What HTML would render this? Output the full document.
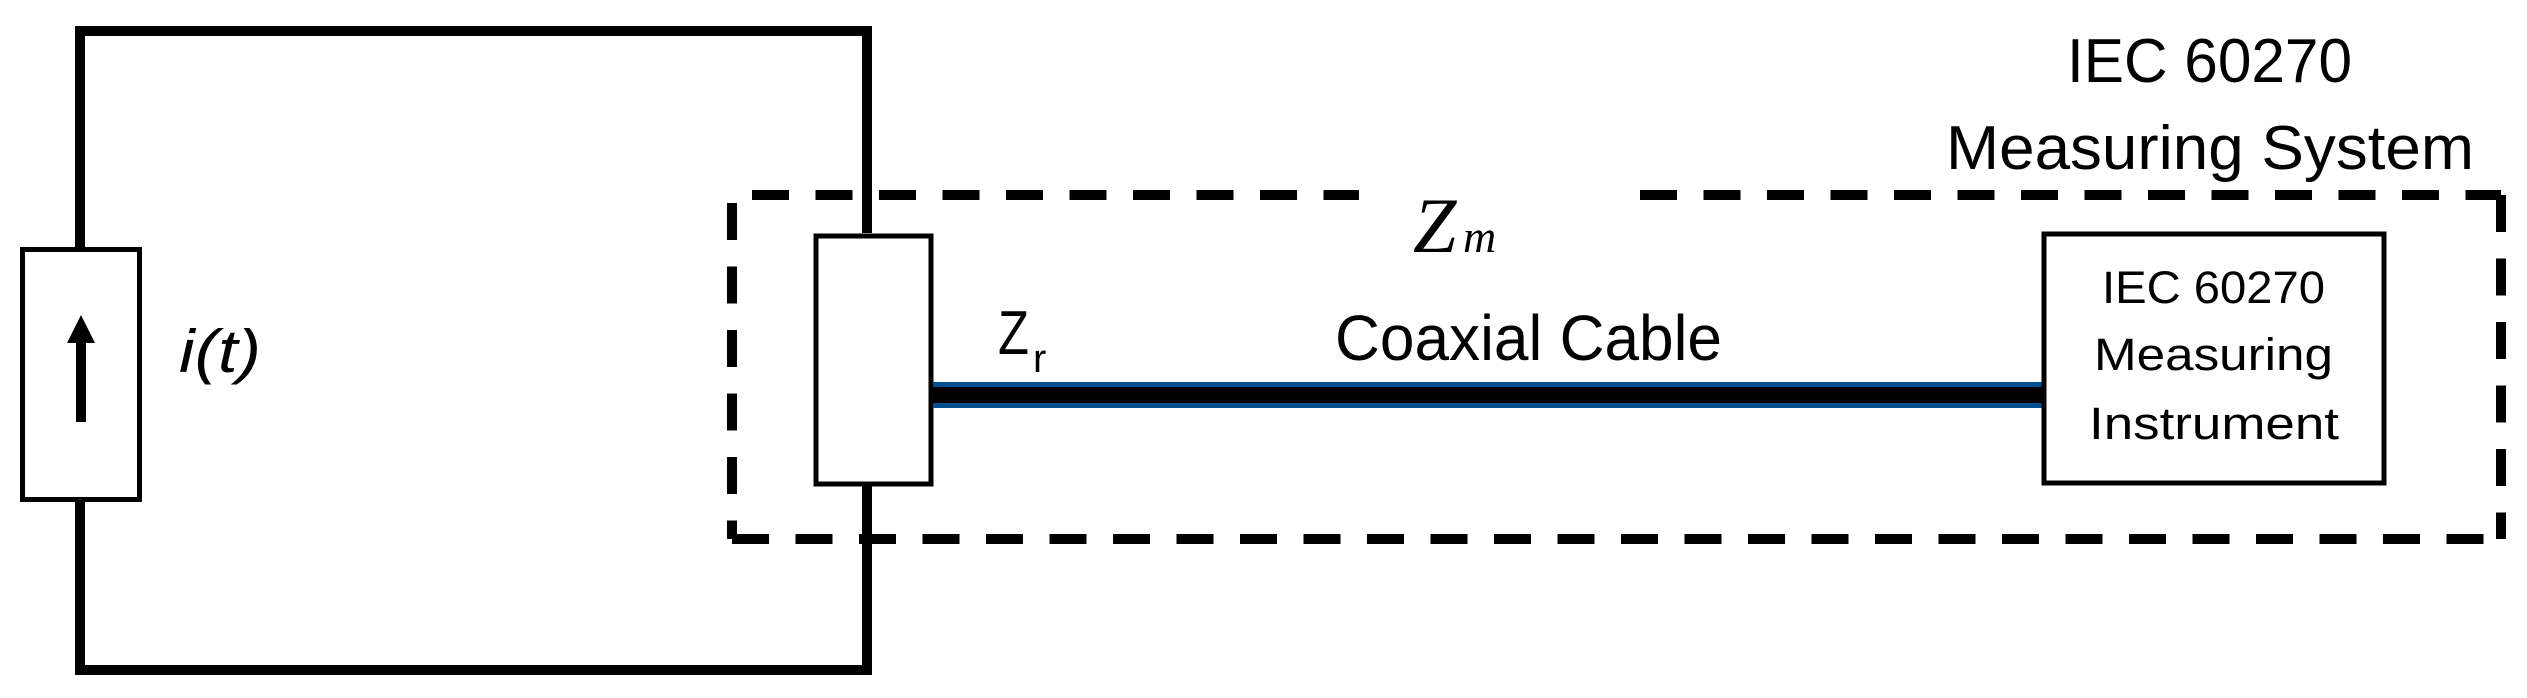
<!DOCTYPE html>
<html><head><meta charset="utf-8"><style>html,body{margin:0;padding:0;background:#fff}svg{display:block}</style></head>
<body>
<svg width="2527" height="698" viewBox="0 0 2527 698" xmlns="http://www.w3.org/2000/svg">
<rect width="2527" height="698" fill="#fff"/>
<!-- outer circuit -->
<polyline points="80,249 80,31 867,31 867,233" fill="none" stroke="#000" stroke-width="10"/>
<polyline points="80,500 80,670 867,670 867,485" fill="none" stroke="#000" stroke-width="10"/>
<!-- source -->
<rect x="22.5" y="249.5" width="117" height="250" fill="#fff" stroke="#000" stroke-width="5"/>
<line x1="81" y1="422" x2="81" y2="340" stroke="#000" stroke-width="10"/>
<polygon points="81,315 67,343 95,343" fill="#000"/>
<text x="179" y="372" font-family="Liberation Sans, sans-serif" font-style="italic" font-size="60" textLength="82" lengthAdjust="spacingAndGlyphs">i(t)</text>
<!-- dashed box -->
<g stroke="#000" stroke-width="10" fill="none" stroke-dasharray="37 26.5">
<line x1="752" y1="195" x2="1359" y2="195"/>
<line x1="1640" y1="195" x2="2501" y2="195"/>
<line x1="732" y1="203" x2="732" y2="539"/>
<line x1="732" y1="539" x2="2501" y2="539"/>
<line x1="2501" y1="195" x2="2501" y2="539"/>
</g>
<!-- resistor -->
<rect x="816" y="236" width="115" height="248" fill="#fff" stroke="#000" stroke-width="5"/>
<!-- cable -->
<rect x="933" y="382" width="1110" height="26" fill="#00508f"/>
<rect x="933" y="387" width="1110" height="16" fill="#000"/>
<!-- instrument -->
<rect x="2044" y="234" width="340" height="249" fill="#fff" stroke="#000" stroke-width="5"/>
<g font-family="Liberation Sans, sans-serif" fill="#000">
<text x="998" y="354" font-size="62" textLength="31" lengthAdjust="spacingAndGlyphs">Z</text>
<text x="1033" y="372" font-size="40">r</text>
<text x="1335" y="360" font-size="64" textLength="387" lengthAdjust="spacingAndGlyphs">Coaxial Cable</text>
<text x="2067" y="82" font-size="62" textLength="285" lengthAdjust="spacingAndGlyphs">IEC 60270</text>
<text x="1946" y="169" font-size="62" textLength="528" lengthAdjust="spacingAndGlyphs">Measuring System</text>
<text x="2102" y="303" font-size="45" textLength="223" lengthAdjust="spacingAndGlyphs">IEC 60270</text>
<text x="2094" y="370" font-size="45" textLength="239" lengthAdjust="spacingAndGlyphs">Measuring</text>
<text x="2089" y="439" font-size="45" textLength="250" lengthAdjust="spacingAndGlyphs">Instrument</text>
</g>
<g font-family="Liberation Serif, serif" font-style="italic" fill="#000">
<text x="1413" y="252" font-size="78">Z</text>
<text x="1463" y="252" font-size="46">m</text>
</g>
</svg>
</body></html>
